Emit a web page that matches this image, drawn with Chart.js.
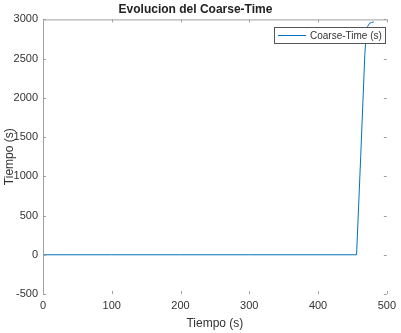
<!DOCTYPE html>
<html lang="es">
<head>
    <meta charset="UTF-8">
    <title>Evolucion del Coarse-Time</title>
    <script src="https://cdn.jsdelivr.net/npm/chart.js"></script>
    <style>
        html, body { margin: 0; padding: 0; background: #fff; }
        #wrap { width: 401px; height: 333px; }
    </style>
</head>
<body>
    <div id="wrap"><canvas id="coarseChart" width="401" height="333"></canvas></div>

    <script>
        // Datos
        const tiempo = [0, 100, 200, 300, 400, 456, 462, 468, 470, 472, 475, 478, 481];
        const coarseTime = [0, 0, 0, 0, 0, 0, 1250, 2550, 2820, 2910, 2950, 2962, 2968];
        const xTicks = [0, 100, 200, 300, 400, 500];
        const yTicks = [-500, 0, 500, 1000, 1500, 2000, 2500, 3000];
        const serieNombre = 'Coarse-Time (s)';

        const FONT = "'Liberation Sans', Arial, sans-serif";
        const AXIS_COLOR = '#a0a0a0';
        const LINE_COLOR = '#0072BD';

        // ejes estilo matlab: linea izquierda y superior, ticks hacia dentro
        const axesBox = {
            id: 'axesBox',
            afterDatasetsDraw(chart) {
                const { ctx, chartArea: a, scales } = chart;
                ctx.save();
                ctx.strokeStyle = AXIS_COLOR;
                ctx.lineWidth = 1;
                ctx.beginPath();
                ctx.moveTo(a.left + 0.5, a.bottom);
                ctx.lineTo(a.left + 0.5, a.top + 0.5);
                ctx.lineTo(a.right, a.top + 0.5);
                ctx.stroke();
                ctx.beginPath();
                xTicks.forEach(v => {
                    const x = Math.round(scales.x.getPixelForValue(v)) + 0.5;
                    ctx.moveTo(x, a.top); ctx.lineTo(x, a.top + 3);
                    ctx.moveTo(x, a.bottom); ctx.lineTo(x, a.bottom - 3);
                });
                yTicks.forEach(v => {
                    const y = Math.round(scales.y.getPixelForValue(v)) + 0.5;
                    ctx.moveTo(a.left, y); ctx.lineTo(a.left + 3, y);
                    ctx.moveTo(a.right, y); ctx.lineTo(a.right - 3, y);
                });
                ctx.stroke();

                // leyenda con recuadro
                const bx = 274, by = 27, bw = 111, bh = 16;
                ctx.fillStyle = '#fff';
                ctx.fillRect(bx, by, bw, bh);
                ctx.strokeStyle = '#555';
                ctx.strokeRect(bx + 0.5, by + 0.5, bw, bh);
                ctx.strokeStyle = LINE_COLOR;
                ctx.beginPath();
                ctx.moveTo(278, by + 8.5);
                ctx.lineTo(306, by + 8.5);
                ctx.stroke();
                ctx.fillStyle = '#333';
                ctx.font = '10px ' + FONT;
                ctx.textBaseline = 'middle';
                ctx.fillText(serieNombre, 310, by + 9);
                ctx.restore();
            }
        };

        const ctx = document.getElementById('coarseChart').getContext('2d');
        new Chart(ctx, {
            type: 'line',
            data: {
                datasets: [{
                    label: serieNombre,
                    data: tiempo.map((t, i) => ({ x: t, y: coarseTime[i] })),
                    borderColor: LINE_COLOR,
                    borderWidth: 1,
                    pointRadius: 0,
                    tension: 0,
                    fill: false
                }]
            },
            options: {
                responsive: false,
                animation: false,
                layout: { padding: { top: 0, right: 10, left: 0, bottom: 0 } },
                plugins: {
                    legend: { display: false },
                    tooltip: { enabled: false },
                    title: {
                        display: true,
                        text: 'Evolucion del Coarse-Time',
                        color: '#222',
                        font: { family: FONT, size: 12, weight: 'bold' },
                        padding: { top: 2, bottom: 3 }
                    }
                },
                scales: {
                    x: {
                        type: 'linear',
                        min: 0,
                        max: 500,
                        afterBuildTicks: s => { s.ticks = xTicks.map(v => ({ value: v })); },
                        afterFit: s => { s.height = 39; },
                        grid: { display: false, drawTicks: false },
                        border: { display: false },
                        ticks: {
                            color: '#333', padding: 5, font: { family: FONT, size: 11 },
                            callback: v => String(v)
                        },
                        title: {
                            display: true,
                            text: 'Tiempo (s)',
                            color: '#333',
                            font: { family: FONT, size: 12 },
                            padding: { top: 0, bottom: 2 }
                        }
                    },
                    y: {
                        min: -500,
                        max: 3000,
                        afterBuildTicks: s => { s.ticks = yTicks.map(v => ({ value: v })); },
                        afterFit: s => { s.width = 43; },
                        grid: { display: false, drawTicks: false },
                        border: { display: false },
                        ticks: {
                            color: '#333', padding: 5, font: { family: FONT, size: 11 },
                            callback: v => String(v)
                        },
                        title: {
                            display: true,
                            text: 'Tiempo (s)',
                            color: '#333',
                            font: { family: FONT, size: 12 },
                            padding: { top: 2, bottom: 0 }
                        }
                    }
                }
            },
            plugins: [axesBox]
        });
    </script>
</body>
</html>
